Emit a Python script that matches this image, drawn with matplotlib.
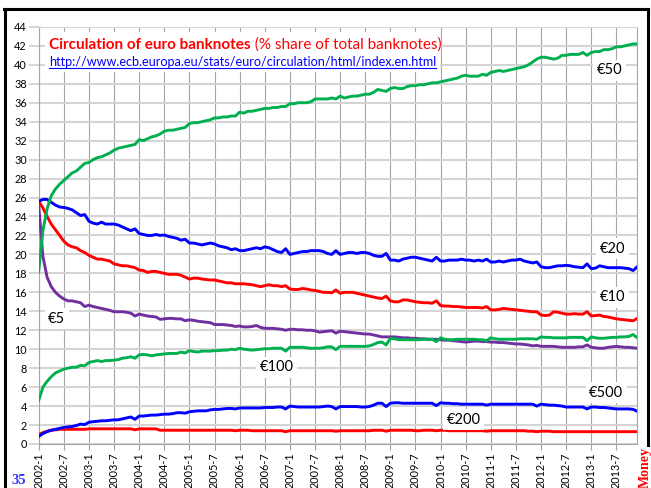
import matplotlib
matplotlib.use("Agg")
import matplotlib.pyplot as plt
from matplotlib.lines import Line2D
from matplotlib.patches import Rectangle
from matplotlib.transforms import IdentityTransform

# ---------------- data (monthly, 2002-1 .. 2013-12) ----------------
months = [f"{2002 + i // 12}-{i % 12 + 1}" for i in range(144)]

eur50 = [18.2, 22.5, 24.8, 26.2, 26.9, 27.4, 27.8, 28.2, 28.6, 28.8, 29.2, 29.6,
         29.7, 30.0, 30.2, 30.3, 30.5, 30.7, 31.0, 31.2, 31.3, 31.4, 31.5, 31.6,
         32.1, 32.0, 32.2, 32.4, 32.5, 32.7, 33.0, 33.1, 33.1, 33.2, 33.3, 33.4,
         33.8, 33.9, 33.9, 34.0, 34.1, 34.2, 34.4, 34.4, 34.5, 34.5, 34.6, 34.6,
         35.0, 34.9, 35.1, 35.1, 35.2, 35.3, 35.4, 35.4, 35.5, 35.5, 35.6, 35.6,
         35.9, 35.9, 36.0, 36.0, 36.0, 36.1, 36.4, 36.4, 36.4, 36.4, 36.5, 36.4,
         36.7, 36.5, 36.6, 36.7, 36.7, 36.8, 36.9, 36.9, 37.1, 37.4, 37.3, 37.2,
         37.5, 37.6, 37.5, 37.5, 37.7, 37.8, 37.8, 37.9, 37.9, 38.0, 38.1, 38.1,
         38.2, 38.3, 38.4, 38.5, 38.6, 38.8, 38.9, 38.8, 38.8, 38.8, 39.0, 38.9,
         39.2, 39.3, 39.4, 39.3, 39.4, 39.5, 39.6, 39.7, 39.8, 40.0, 40.3, 40.6,
         40.8, 40.8, 40.7, 40.6, 40.7, 41.0, 41.0, 41.1, 41.1, 41.1, 41.3, 41.0,
         41.3, 41.4, 41.4, 41.6, 41.6, 41.7, 41.9, 41.9, 42.0, 42.1, 42.2, 42.2]

eur20 = [25.6, 25.8, 25.8, 25.5, 25.2, 25.0, 24.95, 24.85, 24.7, 24.4, 24.1, 24.2,
         23.5, 23.3, 23.2, 23.4, 23.2, 23.2, 23.2, 23.1, 22.9, 22.7, 22.5, 22.7,
         22.2, 22.1, 22.0, 22.0, 22.1, 22.0, 22.05, 21.9, 21.8, 21.7, 21.5, 21.6,
         21.2, 21.2, 21.1, 21.0, 21.1, 21.2, 21.1, 20.9, 20.8, 20.7, 20.5, 20.6,
         20.4, 20.4, 20.5, 20.6, 20.7, 20.6, 20.8, 20.7, 20.5, 20.3, 20.2, 20.6,
         20.0, 20.1, 20.2, 20.3, 20.3, 20.4, 20.4, 20.4, 20.3, 20.1, 20.0, 20.4,
         20.0, 20.1, 20.2, 20.2, 20.1, 20.2, 20.2, 20.1, 19.9, 19.8, 19.8, 20.1,
         19.4, 19.4, 19.3, 19.5, 19.6, 19.7, 19.7, 19.6, 19.5, 19.4, 19.3, 19.7,
         19.3, 19.3, 19.4, 19.4, 19.4, 19.5, 19.4, 19.4, 19.3, 19.4, 19.3, 19.5,
         19.2, 19.2, 19.3, 19.2, 19.3, 19.4, 19.4, 19.5, 19.3, 19.2, 19.1, 19.2,
         18.7, 18.6, 18.6, 18.7, 18.8, 18.8, 18.85, 18.8, 18.7, 18.65, 18.6, 19.0,
         18.5, 18.55, 18.8, 18.7, 18.6, 18.6, 18.6, 18.6, 18.55, 18.5, 18.3, 18.7]

eur10 = [25.6, 24.9, 24.0, 23.2, 22.6, 22.0, 21.4, 21.0, 20.8, 20.7, 20.4, 20.2,
         19.9, 19.7, 19.5, 19.5, 19.4, 19.3, 19.0, 18.9, 18.8, 18.8, 18.7, 18.6,
         18.35, 18.3, 18.1, 18.2, 18.2, 18.1, 18.0, 17.9, 17.9, 17.9, 17.8, 17.6,
         17.4, 17.5, 17.5, 17.4, 17.35, 17.3, 17.3, 17.2, 17.1, 17.0, 17.0, 16.9,
         16.9, 16.9, 16.85, 16.8, 16.7, 16.6, 16.7, 16.8, 16.7, 16.7, 16.6, 16.7,
         16.35, 16.3, 16.3, 16.4, 16.35, 16.25, 16.2, 16.1, 16.0, 16.0, 15.95, 16.25,
         15.9, 16.0, 16.0, 16.0, 15.9, 15.8, 15.7, 15.6, 15.5, 15.4, 15.35, 15.6,
         15.1, 15.0, 15.0, 15.2, 15.2, 15.1, 15.0, 14.95, 14.9, 14.9, 14.85, 15.1,
         14.6, 14.55, 14.55, 14.5, 14.5, 14.45, 14.4, 14.4, 14.4, 14.4, 14.35, 14.5,
         14.15, 14.15, 14.2, 14.3, 14.25, 14.2, 14.15, 14.1, 14.05, 14.0, 13.95, 13.95,
         13.6, 13.55, 13.6, 13.95, 13.9, 13.8, 13.7, 13.7, 13.75, 13.7, 13.7, 13.95,
         13.5, 13.55, 13.6, 13.45, 13.4, 13.3, 13.2, 13.15, 13.1, 13.05, 13.0, 13.25]

eur5 = [25.2, 19.8, 17.6, 16.6, 16.0, 15.6, 15.3, 15.1, 15.1, 15.0, 14.9, 14.5,
        14.65, 14.5, 14.4, 14.3, 14.2, 14.1, 13.95, 13.95, 13.95, 13.9, 13.8, 13.5,
        13.7, 13.6, 13.5, 13.45, 13.4, 13.15, 13.2, 13.25, 13.25, 13.2, 13.2, 13.0,
        13.1, 13.05, 12.95, 12.9, 12.85, 12.8, 12.6, 12.6, 12.6, 12.55, 12.5, 12.4,
        12.45, 12.35, 12.35, 12.4, 12.5, 12.3, 12.2, 12.2, 12.2, 12.15, 12.1, 12.0,
        12.1, 12.1, 12.05, 12.05, 12.0, 12.0, 11.95, 11.8, 11.85, 11.9, 11.95, 11.7,
        11.9, 11.85, 11.8, 11.75, 11.7, 11.65, 11.6, 11.6, 11.5, 11.4, 11.3, 11.3,
        11.3, 11.3, 11.25, 11.2, 11.2, 11.15, 11.15, 11.1, 11.1, 11.05, 11.05, 11.05,
        11.0, 10.95, 10.95, 10.9, 10.85, 10.8, 10.75, 10.8, 10.85, 10.85, 10.8, 10.8,
        10.75, 10.75, 10.7, 10.7, 10.65, 10.6, 10.55, 10.55, 10.5, 10.45, 10.35, 10.4,
        10.3, 10.3, 10.3, 10.3, 10.25, 10.2, 10.2, 10.2, 10.2, 10.25, 10.25, 10.45,
        10.2, 10.15, 10.1, 10.1, 10.2, 10.25, 10.3, 10.25, 10.2, 10.2, 10.15, 10.1]

eur100 = [4.6, 6.0, 6.6, 7.1, 7.5, 7.7, 7.9, 8.0, 8.1, 8.1, 8.3, 8.25,
          8.6, 8.7, 8.8, 8.7, 8.8, 8.8, 8.85, 8.9, 9.05, 9.1, 9.2, 9.05,
          9.4, 9.45, 9.4, 9.3, 9.4, 9.45, 9.5, 9.55, 9.55, 9.55, 9.7, 9.6,
          9.85, 9.75, 9.7, 9.8, 9.8, 9.8, 9.85, 9.85, 9.9, 9.9, 10.0, 9.95,
          10.1, 10.0, 9.95, 9.9, 9.95, 10.0, 10.05, 10.05, 10.1, 10.1, 10.1, 9.8,
          10.2, 10.2, 10.2, 10.2, 10.15, 10.1, 10.1, 10.1, 10.15, 10.25, 10.25, 9.95,
          10.3, 10.3, 10.3, 10.3, 10.3, 10.3, 10.3, 10.35, 10.5, 10.7, 10.75, 10.45,
          11.15, 11.1, 11.0, 11.0, 11.0, 11.0, 11.0, 11.0, 11.05, 11.05, 11.05, 10.8,
          11.2, 11.05, 11.0, 11.0, 11.05, 11.05, 11.05, 11.05, 11.05, 11.0, 11.0, 10.9,
          11.2, 11.1, 11.05, 11.05, 11.05, 11.05, 11.05, 11.1, 11.1, 11.1, 11.1, 11.05,
          11.3, 11.25, 11.25, 11.2, 11.2, 11.2, 11.2, 11.25, 11.25, 11.25, 11.25, 10.9,
          11.3, 11.2, 11.15, 11.15, 11.2, 11.25, 11.25, 11.3, 11.3, 11.35, 11.55, 11.2]

eur500 = [0.8, 1.1, 1.3, 1.45, 1.55, 1.65, 1.75, 1.8, 1.85, 1.95, 2.1, 2.05,
          2.3, 2.35, 2.4, 2.45, 2.45, 2.5, 2.55, 2.55, 2.65, 2.75, 2.85, 2.6,
          2.95, 2.95, 3.0, 3.05, 3.05, 3.1, 3.15, 3.15, 3.2, 3.3, 3.3, 3.25,
          3.4, 3.45, 3.5, 3.5, 3.5, 3.6, 3.65, 3.65, 3.7, 3.75, 3.75, 3.7,
          3.8, 3.8, 3.8, 3.8, 3.8, 3.8, 3.85, 3.85, 3.85, 3.9, 3.9, 3.7,
          4.0, 3.95, 3.9, 3.9, 3.9, 3.9, 3.9, 3.9, 3.95, 4.0, 3.95, 3.7,
          3.95, 3.95, 3.95, 3.95, 3.95, 3.9, 3.9, 3.95, 4.1, 4.3, 4.3, 3.95,
          4.3, 4.35, 4.35, 4.3, 4.3, 4.3, 4.3, 4.3, 4.3, 4.3, 4.3, 4.05,
          4.35, 4.3, 4.3, 4.25, 4.25, 4.2, 4.2, 4.2, 4.2, 4.2, 4.2, 4.1,
          4.2, 4.2, 4.2, 4.2, 4.2, 4.2, 4.2, 4.2, 4.2, 4.2, 4.2, 4.0,
          4.2, 4.15, 4.1, 4.1, 4.05, 4.0, 3.9, 3.9, 3.9, 3.9, 3.9, 3.7,
          3.9, 3.9, 3.85, 3.85, 3.8, 3.75, 3.7, 3.7, 3.7, 3.7, 3.65, 3.45]

eur200 = [1.0, 1.2, 1.35, 1.45, 1.5, 1.55, 1.55, 1.55, 1.55, 1.55, 1.55, 1.55,
          1.6, 1.6, 1.6, 1.6, 1.6, 1.6, 1.6, 1.6, 1.6, 1.6, 1.6, 1.5,
          1.6, 1.6, 1.6, 1.6, 1.6, 1.45, 1.45, 1.45, 1.45, 1.45, 1.45, 1.45,
          1.45, 1.45, 1.45, 1.45, 1.45, 1.45, 1.45, 1.45, 1.45, 1.45, 1.45, 1.4,
          1.45, 1.45, 1.45, 1.4, 1.4, 1.4, 1.4, 1.4, 1.4, 1.4, 1.4, 1.3,
          1.4, 1.4, 1.4, 1.4, 1.4, 1.4, 1.4, 1.4, 1.4, 1.4, 1.4, 1.35,
          1.4, 1.4, 1.4, 1.4, 1.4, 1.4, 1.4, 1.4, 1.45, 1.45, 1.45, 1.35,
          1.45, 1.45, 1.45, 1.45, 1.45, 1.45, 1.4, 1.4, 1.45, 1.45, 1.45, 1.4,
          1.45, 1.45, 1.4, 1.4, 1.4, 1.4, 1.4, 1.4, 1.4, 1.4, 1.4, 1.35,
          1.4, 1.4, 1.4, 1.4, 1.4, 1.4, 1.4, 1.4, 1.4, 1.35, 1.35, 1.3,
          1.35, 1.35, 1.35, 1.3, 1.3, 1.3, 1.3, 1.3, 1.3, 1.3, 1.3, 1.3,
          1.3, 1.3, 1.3, 1.3, 1.3, 1.3, 1.3, 1.3, 1.3, 1.3, 1.3, 1.3]

series_names = ["€5", "€10", "€20", "€50", "€100", "€200", "€500"]
series_values = [eur5, eur10, eur20, eur50, eur100, eur200, eur500]
series_colors = ["#7030A0", "#FF0000", "#0000FF", "#00B050", "#00B050", "#FF0000", "#0000FF"]
# label positions (month index, value)
label_pos = [(4.3, 13.2), (137.1, 15.5), (137.1, 20.6), (136.3, 39.45),
             (56.8, 8.1), (101.5, 2.55), (135.6, 5.4)]

tick_idx = list(range(0, 144, 6))
tick_labels = [months[i] for i in tick_idx]

title_bold = "Circulation of euro banknotes"
title_rest = " (% share of total banknotes)"
url = "http://www.ecb.europa.eu/stats/euro/circulation/html/index.en.html"

# ---------------- figure ----------------
plt.rcParams['font.family'] = ['Lato', 'DejaVu Sans']
W, H = 651, 488
fig = plt.figure(figsize=(W / 100, H / 100), dpi=100)
fig.patch.set_facecolor("white")

L, R, B, T = 38.7, 637.3, 444.0, 26.9
ax = fig.add_axes([L / W, 1 - B / H, (R - L) / W, (B - T) / H])
ax.set_xlim(0, 143)
ax.set_ylim(0, 44)

x = list(range(144))
for name, vals, col in zip(series_names, series_values, series_colors):
    ax.plot(x, vals, color=col, lw=2.1, zorder=3, solid_joinstyle="round")

for name, (px, py) in zip(series_names, label_pos):
    ax.text(px, py, name, fontsize=10.5, ha="center", va="center", color="black",
            zorder=4, bbox=dict(facecolor="white", edgecolor="none", pad=2.5))

ax.set_yticks(range(0, 45, 2))
ax.set_xticks(tick_idx)
ax.set_xticklabels(tick_labels, rotation=90, fontsize=7.8)
ax.tick_params(axis="y", length=7, width=1.2, color="#d0d0d0", labelsize=7.8, pad=1.5)
ax.tick_params(axis="x", length=4, width=0.8, color="#a0a0a0", pad=2)
ax.grid(axis="y", color="#d4d4d4", lw=1.5, zorder=0)
ax.grid(axis="x", color="#a6a6a6", lw=0.8, zorder=0)
ax.set_axisbelow(True)
for side in ["left", "bottom", "right", "top"]:
    ax.spines[side].set_color("#a6a6a6")
    ax.spines[side].set_linewidth(0.8)
ax.spines["top"].set_color("#d4d4d4")

# title block (white background)
fig.add_artist(Rectangle((45, H - 72), 395, 40, transform=IdentityTransform(),
                         facecolor="white", edgecolor="none", zorder=1))
t1 = fig.text(49 / W, 1 - 45 / H, title_bold, color="#FF0000", fontsize=11,
              fontweight="bold", va="center", ha="left", zorder=2)
fig.canvas.draw()
bb = t1.get_window_extent()
fig.text(bb.x1 / W, 1 - 45 / H, title_rest, color="#FF0000", fontsize=11,
         va="center", ha="left", zorder=2)
tu = fig.text(49 / W, 1 - 62.5 / H, url, color="#0000FF", fontsize=9.1,
              va="center", ha="left", zorder=2)
fig.canvas.draw()
ub = tu.get_window_extent()
fig.add_artist(Line2D([ub.x0, ub.x1], [ub.y0 + 1.0, ub.y0 + 1.0], color="#0000FF",
                      lw=0.8, transform=IdentityTransform(), zorder=2))

# slide frame
fr = dict(color="black", lw=2.2, transform=IdentityTransform(), zorder=5)
fig.add_artist(Line2D([4, 648], [H - 9, H - 9], **fr))
fig.add_artist(Line2D([4.5, 4.5], [H - 9, 0], **fr))
fig.add_artist(Line2D([647.5, 647.5], [H - 9, H - 445], **fr))

fig.text(11 / W, 1 - 481 / H, "35", color="#3333FF", fontsize=10.5, fontweight="bold",
         va="center", ha="left", family=["Liberation Serif", "DejaVu Serif"])
fig.text(645 / W, 1 - 467 / H, "Money", color="#FF0000", fontsize=10, fontweight="bold",
         va="center", ha="center", rotation=90, family=["Liberation Serif", "DejaVu Serif"])

fig.savefig("out.png", dpi=100)
